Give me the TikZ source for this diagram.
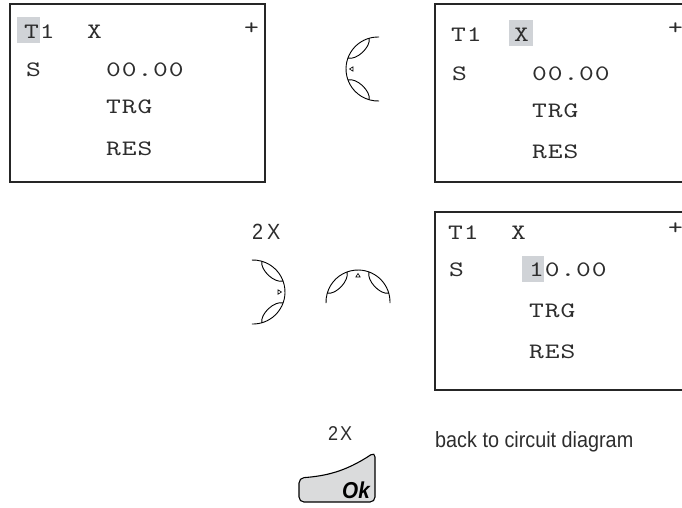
\documentclass[tikz,border=0pt]{standalone}
\usepackage{fontspec}
\newfontfamily\lcdfont[FakeStretch=1.28,LetterSpace=4]{lmmono10-regular.otf}
\newfontfamily\notefont[FakeStretch=0.9]{Liberation Sans}
\definecolor{cursor}{RGB}{208,211,215}
\definecolor{keygray}{RGB}{218,219,220}
\definecolor{ink}{RGB}{45,45,45}
\tikzset{
  lcd/.style={anchor=base west,inner sep=0pt,text=ink,font=\lcdfont\fontsize{22}{22}\selectfont},
  note/.style={anchor=base west,inner sep=0pt,text=ink,font=\notefont\fontsize{22}{22}\selectfont},
  screen/.style={draw=black!85,line width=1.2pt}
}
% cursor key, #3 = direction it points to
\newcommand{\rocker}[3]{%
  \begin{scope}[shift={(#1,#2)},rotate=#3,yscale=-1,line width=0.9pt]
    \draw (-92:32) arc (-92:92:32);
    \draw (20:32) .. controls (22:23) and (72:23) .. (74:32);
    \draw (-20:32) .. controls (-22:23) and (-72:23) .. (-74:32);
    \draw[line width=0.6pt] (28.5,0) -- (25,2.2) -- (25,-2.2) -- cycle;
  \end{scope}}

\begin{document}
\begin{tikzpicture}[x=1pt,y=-1pt]
\useasboundingbox (0,0) rectangle (682,507);

% first screen
\fill[cursor] (17,17) rectangle (40,43);
\draw[screen] (10,4) rectangle (265,182);
\node[lcd] (ta) at (24,38) {T1};
\node[lcd] (xa) at (87,38) {X};
\node[lcd] (pa) at (244,34) {+};
\node[lcd] (sa) at (26,76) {S};
\node[lcd] (va) at (106,76) {00.00};
\node[lcd] (ga) at (106,113) {TRG};
\node[lcd] (ra) at (106,155) {RES};

% second screen
\fill[cursor] (509,20) rectangle (533,46);
\draw[screen] (435,4) rectangle (692,182);
\node[lcd] (tb) at (451,41) {T1};
\node[lcd] (xb) at (514,41) {X};
\node[lcd] (pb) at (668,34) {+};
\node[lcd] (sb) at (452,80) {S};
\node[lcd] (vb) at (532,80) {00.00};
\node[lcd] (gb) at (532,117) {TRG};
\node[lcd] (rb) at (532,158) {RES};

% third screen
\fill[cursor] (522,256) rectangle (544,282);
\draw[screen] (435,212) rectangle (692,390);
\node[lcd] (tc) at (448,239) {T1};
\node[lcd] (xc) at (511,239) {X};
\node[lcd] (pc) at (668,234) {+};
\node[lcd] (sc) at (449,276) {S};
\node[lcd] (vc) at (529,276) {10.00};
\node[lcd] (gc) at (529,317) {TRG};
\node[lcd] (rc) at (529,358) {RES};

% cursor keys
\rocker{378}{69}{180}
\rocker{253}{292}{0}
\rocker{358}{302}{90}
\node[note] (twice) at (252,239) {2\hspace{4pt}X};

% OK key
\draw[fill=keygray,line width=1.1pt,rounded corners=5pt]
  (299,502) -- (375,502) -- (375,452) .. controls (345,472) and (325,476) .. (299,478) -- cycle;
\node[anchor=base west,inner sep=0pt,font=\notefont\fontsize{23}{23}\selectfont\bfseries\itshape] (ok) at (342,498) {Ok};
\node[note,font=\notefont\fontsize{20}{20}\selectfont] (twiceok) at (328,440) {2\hspace{2pt}X};
\node[note] (back) at (435,447) {back to circuit diagram};
\end{tikzpicture}
\end{document}
